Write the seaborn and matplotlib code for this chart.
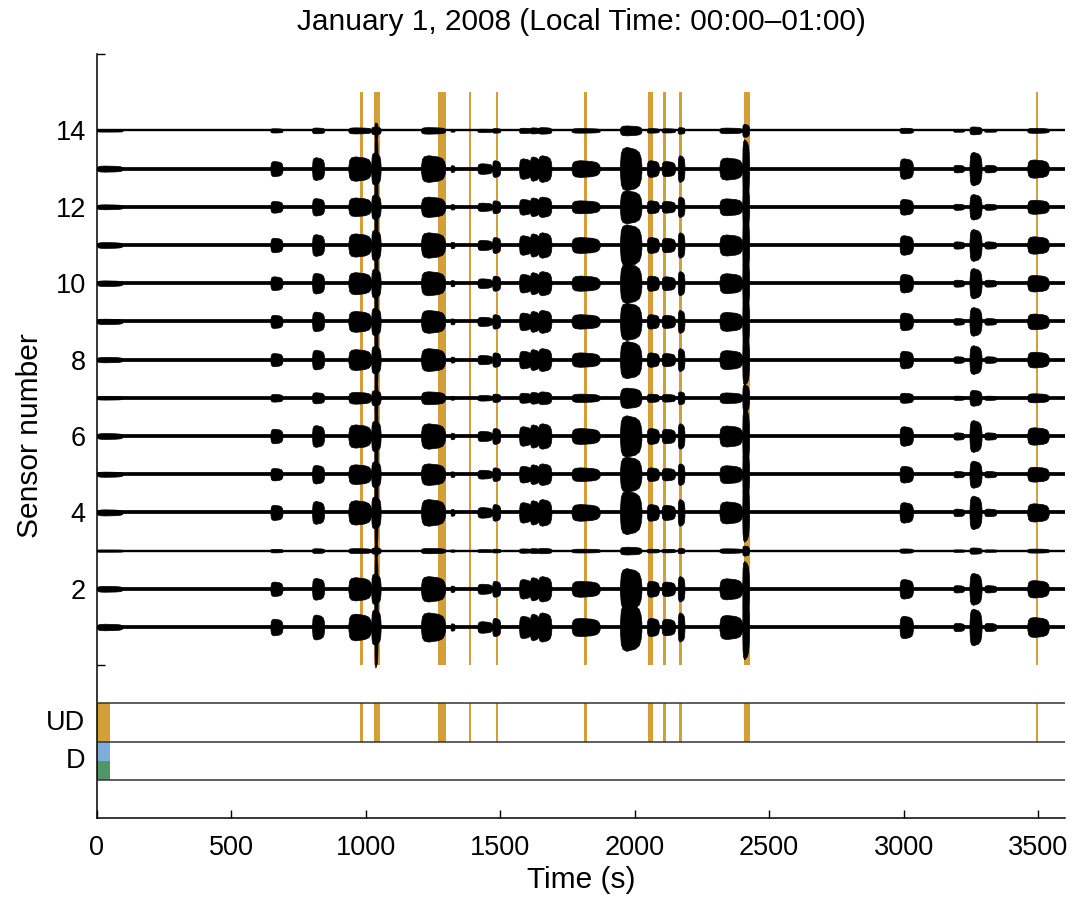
import numpy as np
import pandas as pd
import matplotlib
matplotlib.use("Agg")
import matplotlib.pyplot as plt
import seaborn as sns

# ---------------- data ----------------
sensors = list(range(1, 15))
# relative trace amplitude of each sensor (sensor 1 .. 14)
sensor_gain = [1.10, 0.95, 0.15, 1.00, 0.80, 0.95, 0.45, 0.85, 0.85, 0.90, 0.95, 0.75, 1.00, 0.20]

# seismic bursts seen on all sensors: start (s), end (s), half-amplitude (sensor spacing units)
event_start = [0, 645, 800, 935, 1020, 1032, 1205, 1315, 1415, 1470, 1570, 1610, 1640, 1765,
               1945, 2045, 2100, 2160, 2315, 2400, 2985, 3185, 3245, 3300, 3460]
event_end = [95, 690, 845, 1020, 1055, 1044, 1295, 1330, 1470, 1500, 1615, 1645, 1690, 1870,
             2025, 2090, 2150, 2185, 2400, 2425, 3035, 3225, 3290, 3345, 3540]
event_amp = [0.06, 0.18, 0.28, 0.30, 0.40, 0.95, 0.33, 0.07, 0.12, 0.20, 0.25, 0.30, 0.33, 0.20,
             0.55, 0.20, 0.18, 0.33, 0.27, 0.75, 0.25, 0.08, 0.42, 0.08, 0.22]

# detected (UD) windows, orange
band_start = [980, 1030, 1268, 1384, 1484, 1812, 2051, 2106, 2163, 2407, 3491]
band_end = [991, 1052, 1300, 1392, 1493, 1821, 2068, 2116, 2177, 2427, 3499]

# legend-like colour blocks in the lower panel
block_labels = ["UD", "D"]
block_start = 0
block_end = 50

x_ticks = [0, 500, 1000, 1500, 2000, 2500, 3000, 3500]
y_ticks = [0, 2, 4, 6, 8, 10, 12, 14, 16]
y_ticklabels = ["", "2", "4", "6", "8", "10", "12", "14", ""]

title = "January 1, 2008 (Local Time: 00:00\u201301:00)"

# ---------------- styling ----------------
ORANGE = "#D69E36"
BLUE = "#7FAEDD"
GREEN = "#4E9868"

sns.set_theme(style="ticks")
plt.rcParams["font.family"] = ["Liberation Sans", "DejaVu Sans"]
plt.rcParams["xtick.direction"] = "in"
plt.rcParams["ytick.direction"] = "in"

fig = plt.figure(figsize=(10.76, 9.0), dpi=100)
fig.patch.set_facecolor("white")
ax = fig.add_axes([0.0901, 0.0911, 0.8996, 0.8489])
ax.set_facecolor("white")

# orange bands across the sensor panel and in the UD row
b_center = [(a + b) / 2 for a, b in zip(band_start, band_end)]
b_width = [b - a for a, b in zip(band_start, band_end)]
ax.bar(b_center, [15] * len(b_center), width=b_width, bottom=0, color=ORANGE,
       linewidth=0, zorder=1)
ax.bar(b_center, [1] * len(b_center), width=b_width, bottom=-2, color=ORANGE,
       linewidth=0, zorder=1)

# colour blocks at the start of the lower panel
bc = (block_start + block_end) / 2
bw = block_end - block_start
ax.bar([bc], [1], width=bw, bottom=-2, color=ORANGE, linewidth=0, zorder=1)
ax.bar([bc], [0.5], width=bw, bottom=-2.5, color=BLUE, linewidth=0, zorder=1)
ax.bar([bc], [0.5], width=bw, bottom=-3, color=GREEN, linewidth=0, zorder=1)

# baselines of the traces (seaborn)
thin = {3, 14}
base = pd.DataFrame({
    "time": [0, 3600] * len(sensors),
    "sensor": np.repeat(sensors, 2),
})
sns.lineplot(data=base[~base.sensor.isin(thin)], x="time", y="sensor", units="sensor",
             estimator=None, color="black", linewidth=2.7, ax=ax, zorder=3)
sns.lineplot(data=base[base.sensor.isin(thin)], x="time", y="sensor", units="sensor",
             estimator=None, color="black", linewidth=1.7, ax=ax, zorder=3)

# burst envelopes (plateau-like spindles)
frac = np.array([0.0, 0.04, 0.12, 0.3, 0.5, 0.7, 0.88, 0.96, 1.0])
shape = np.array([0.15, 0.7, 0.92, 1.0, 0.95, 0.9, 0.75, 0.5, 0.15])
for s, g in zip(sensors, sensor_gain):
    for t0, t1, a in zip(event_start, event_end, event_amp):
        xs = t0 + frac * (t1 - t0)
        hs = shape * a * g + 0.02
        ax.fill_between(xs, s - hs, s + hs, color="black", linewidth=0.5,
                        edgecolor="black", zorder=3)

# lower panel separators
for yv in (-1, -2, -3):
    ax.plot([0, 3600], [yv, yv], color="#333333", linewidth=1.1, zorder=4)

ax.set_xlim(0, 3600)
ax.set_ylim(-4, 16)
ax.set_xticks(x_ticks)
ax.set_xticklabels([str(v) for v in x_ticks])
ax.set_yticks(y_ticks)
ax.set_yticklabels(y_ticklabels)
ax.tick_params(axis="both", labelsize=19.5, length=6, width=1.0, color="black",
               labelcolor="black")
ax.tick_params(axis="x", pad=12)
ax.tick_params(axis="y", pad=8)
ax.set_xlabel("")
ax.set_ylabel("")
sns.despine(ax=ax, top=True, right=True)
for sp in ("left", "bottom"):
    ax.spines[sp].set_color("black")
    ax.spines[sp].set_linewidth(1.1)

# row labels of the lower panel
ax.text(-0.012, -1.5, block_labels[0], transform=ax.get_yaxis_transform(),
        ha="right", va="center", fontsize=19.5, color="black")
ax.text(-0.012, -2.5, block_labels[1], transform=ax.get_yaxis_transform(),
        ha="right", va="center", fontsize=19.5, color="black")

fig.text(581 / 1076, 1 - 22 / 900, title, ha="center", va="center", fontsize=21.5,
         color="black")
fig.text(30 / 1076, 1 - 436 / 900, "Sensor number", ha="center", va="center",
         rotation=90, fontsize=21.5, color="black")
fig.text(581 / 1076, 1 - 880 / 900, "Time (s)", ha="center", va="center",
         fontsize=21.5, color="black")

fig.savefig("out.png", dpi=100, facecolor="white")
